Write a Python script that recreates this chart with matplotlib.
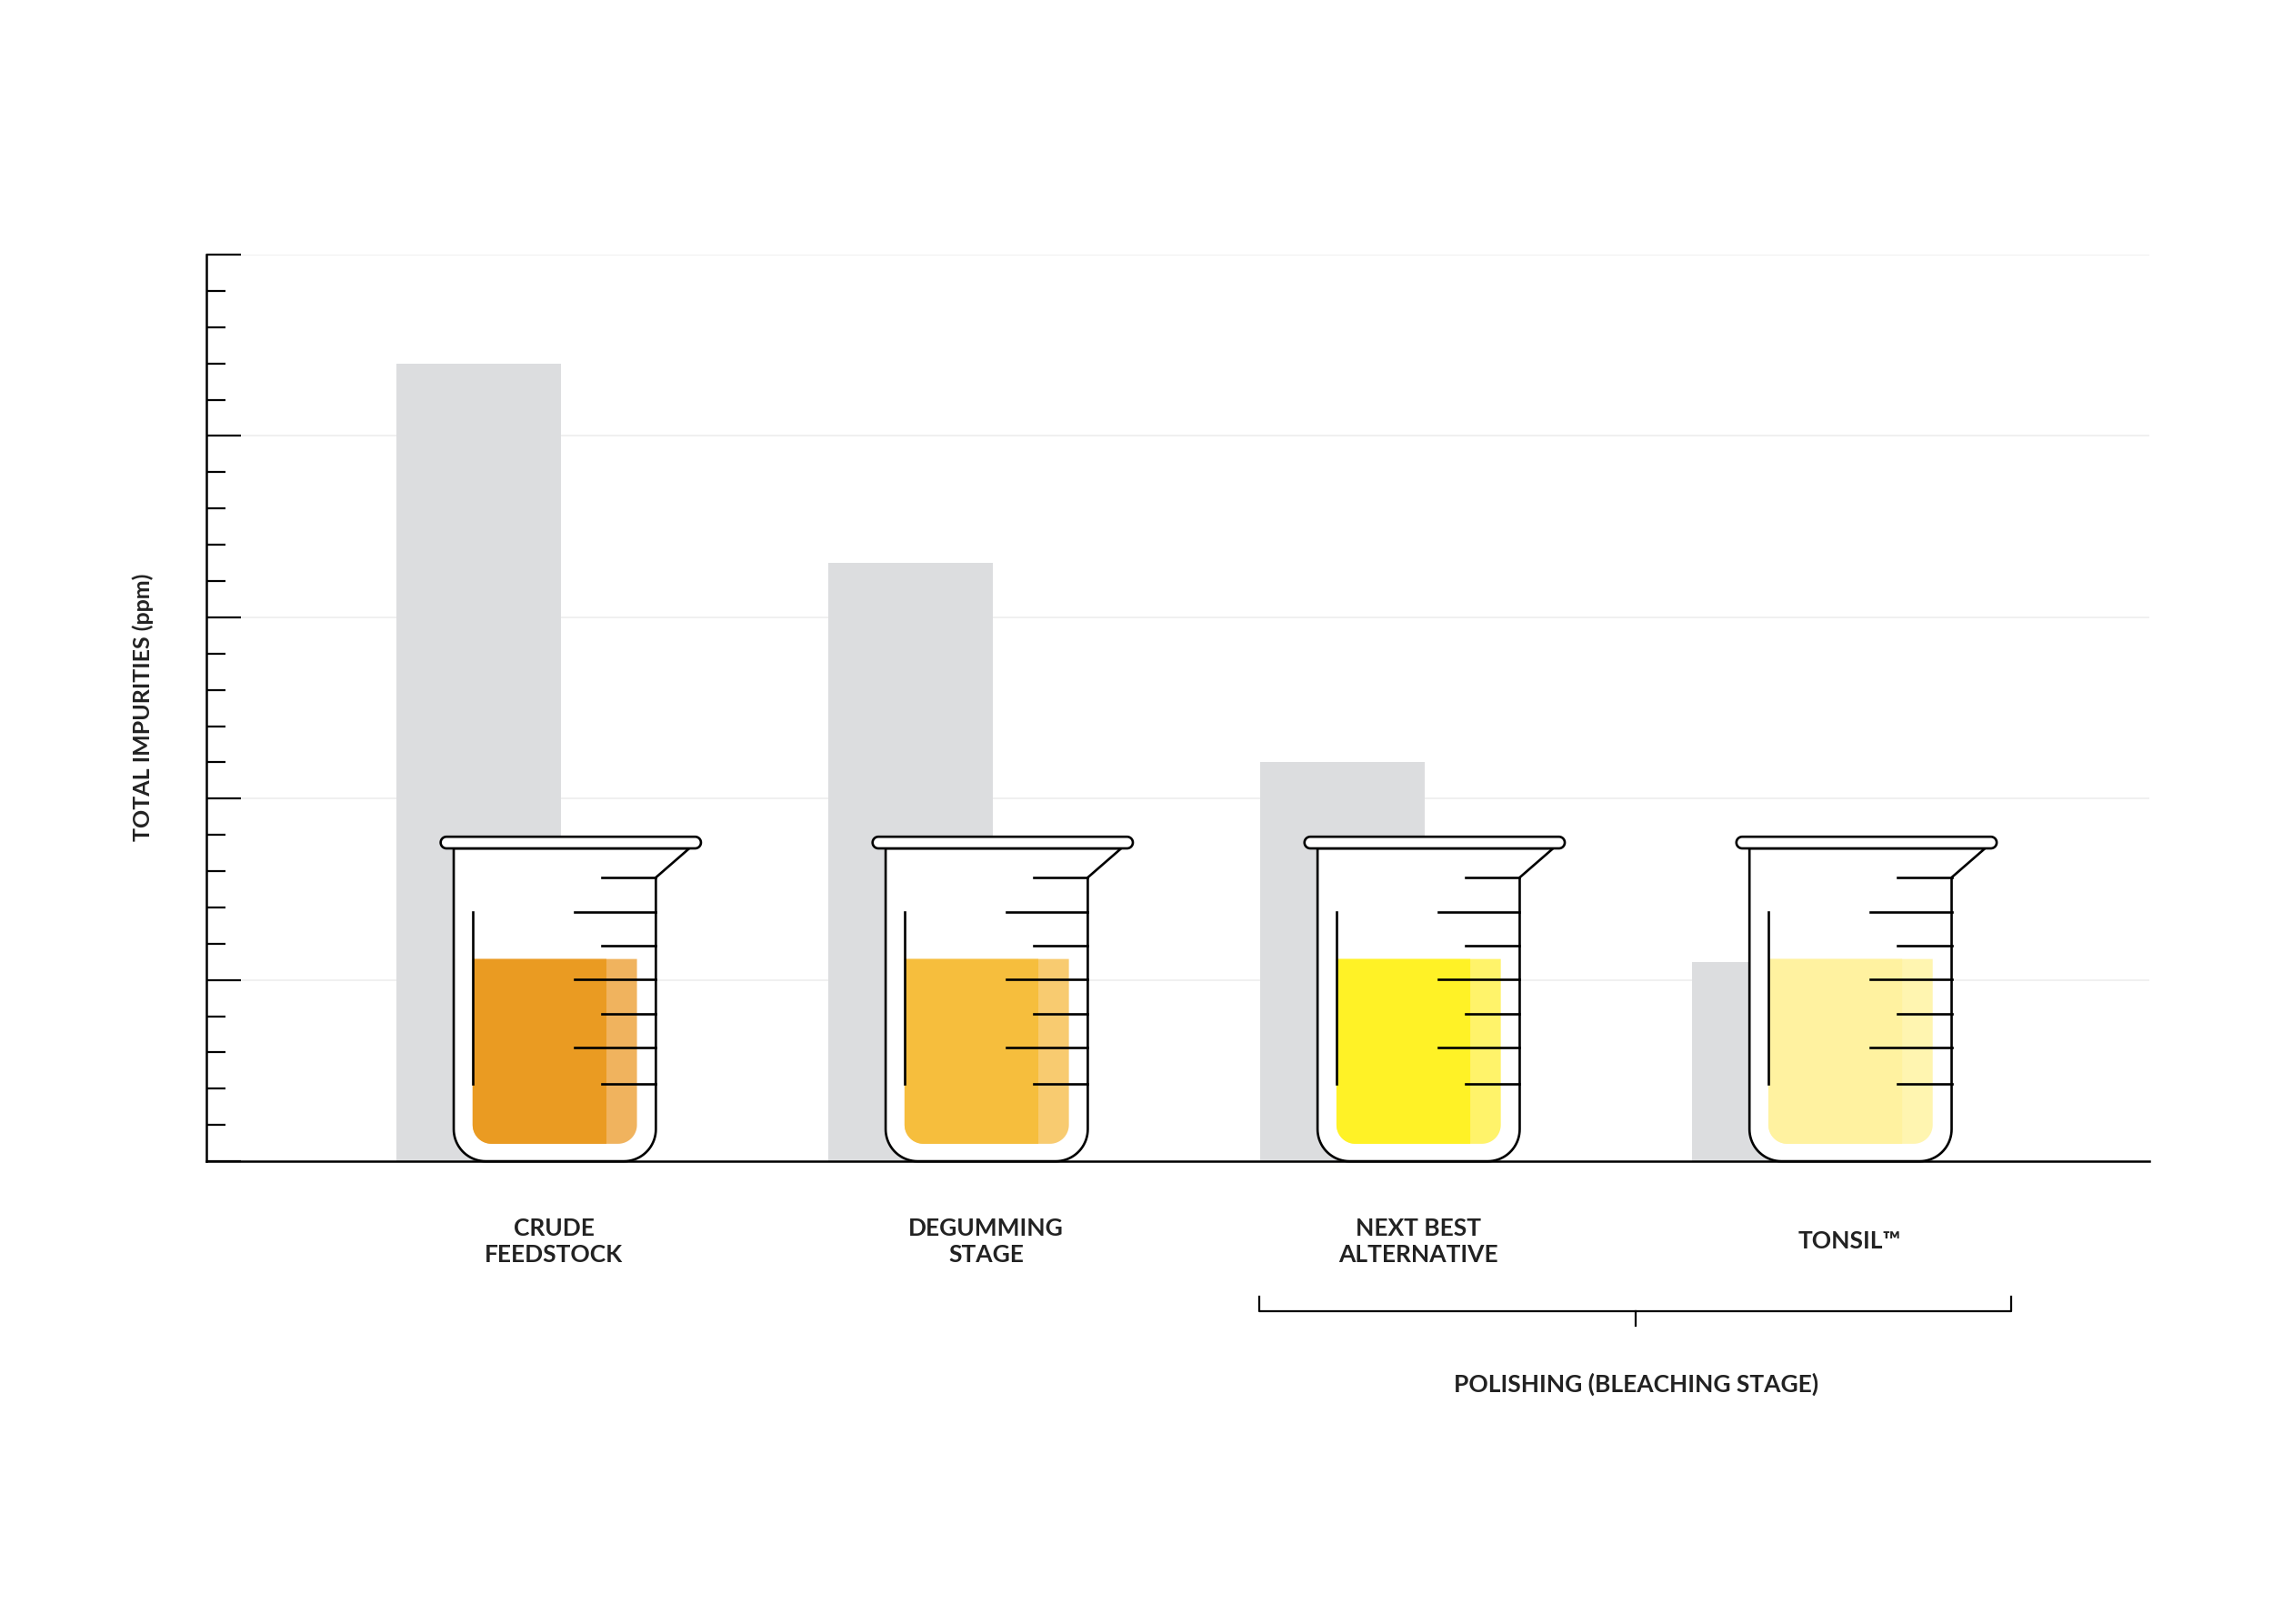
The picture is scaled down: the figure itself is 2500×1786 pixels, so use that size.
import numpy as np
import matplotlib
matplotlib.use("Agg")
import matplotlib.pyplot as plt
from matplotlib.patches import Polygon

categories = ["CRUDE\nFEEDSTOCK", "DEGUMMING\nSTAGE", "NEXT BEST\nALTERNATIVE", "TONSIL™"]
values = [4.4, 3.3, 2.2, 1.1]
liquid_dark = ["#EA9B22", "#F6BE3D", "#FFF226", "#FFF2A0"]
liquid_light = ["#F0B35E", "#F8CB70", "#FFF36A", "#FFF5B0"]
group_label = "POLISHING (BLEACHING STAGE)"
ylabel = "TOTAL IMPURITIES (ppm)"

plt.rcParams['font.family'] = ['Lato', 'DejaVu Sans']
fig = plt.figure(figsize=(25, 17.86), dpi=100)
ax = fig.add_axes([142/1563, 1-798/1116, (1478-142)/1563, (798-175)/1116])

SX, SY = 297.0, 124.6  # display px per data unit
def X(px): return px / SX
def Y(px): return (798 - px) / SY

x = np.arange(len(categories))
ax.bar(x, values, width=113/SX, color="#DCDDDF", zorder=1)
ax.set_xlim(-(329-142)/SX, (1478-329)/SX)
ax.set_ylim(0, 5)
for v in range(1, 6):
    ax.axhline(v, color="#EEEEEE", lw=1.2, zorder=0)
ax.set_yticks(np.arange(0, 5.01, 1))
ax.set_yticks(np.arange(0, 5.01, 0.2), minor=True)
ax.tick_params(axis='y', which='major', direction='in', length=27, width=1.6, labelleft=False)
ax.tick_params(axis='y', which='minor', direction='in', length=15, width=1.6)
ax.set_xticks([])
for s in ['top', 'right']:
    ax.spines[s].set_visible(False)
for s in ['left', 'bottom']:
    ax.spines[s].set_linewidth(1.8)

def arc(cx, cy, r, a0, a1, n=20):
    t = np.radians(np.linspace(a0, a1, n))
    return list(zip(cx + r*np.cos(t), cy - r*np.sin(t)))

def rounded_bottom(x0, x1, ytop, ybot, rl, rr):
    pts = [(x0, ytop)]
    pts += arc(x0+rl, ybot-rl, rl, 180, 270) if rl else [(x0, ybot)]
    pts += arc(x1-rr, ybot-rr, rr, 270, 360) if rr else [(x1, ybot)]
    pts += [(x1, ytop)]
    return pts

def poly(pts, c, **kw):
    p = Polygon([(cx0 + X(a), Y(b)) for a, b in pts], closed=True, clip_on=False, **kw)
    ax.add_patch(p)

lw = 1.9
for i in range(len(categories)):
    cx0 = x[i] + X(52)
    o = 381  # beaker center in px of first beaker
    # body
    body = [(312-o, 583)] + rounded_bottom(312-o, 451-o, 583, 798, 22, 22)[1:-1] + [(451-o, 603), (474-o, 583)]
    poly(body, cx0, facecolor="white", edgecolor="black", lw=lw, zorder=3)
    # liquid
    poly(rounded_bottom(325-o, 438-o, 659, 786, 13, 13), cx0, facecolor=liquid_light[i], edgecolor="none", zorder=4)
    poly(rounded_bottom(325-o, 417-o, 659, 786, 13, 0), cx0, facecolor=liquid_dark[i], edgecolor="none", zorder=4)
    # rim
    rim = arc(478-o, 579, 4, -90, 90) + arc(307-o, 579, 4, 90, 270)
    poly(rim, cx0, facecolor="white", edgecolor="black", lw=lw, zorder=5)
    # graduations
    for yy, x0p in [(603, 414), (627, 395), (650, 414), (673, 395), (697, 414), (720, 395), (745, 414)]:
        ax.plot([cx0+X(x0p-o), cx0+X(451-o)], [Y(yy), Y(yy)], color="black", lw=lw, zorder=6, clip_on=False)
    ax.plot([cx0+X(325-o)]*2, [Y(627), Y(745)], color="black", lw=lw, zorder=6, clip_on=False)
    ax.text(cx0, Y(853), categories[i], ha="center", va="center", fontsize=19,
            fontweight="bold", color="#222222", linespacing=1.25, clip_on=False)

# bracket
bx = lambda px: (px-329)/SX
ax.plot([bx(866), bx(866), bx(1383), bx(1383)], [Y(891), Y(901), Y(901), Y(891)], color="black", lw=1.6, clip_on=False)
ax.plot([bx(1125)]*2, [Y(901), Y(911)], color="black", lw=1.6, clip_on=False)
ax.text(bx(1125), Y(951), group_label, ha="center", va="center", fontsize=19, fontweight="bold", color="#222222")
fig.text(98/1563, 1-486/1116, ylabel, rotation=90, ha="center", va="center", fontsize=18, fontweight="bold", color="#222222")

fig.savefig("out.png", dpi=100, facecolor="white")
